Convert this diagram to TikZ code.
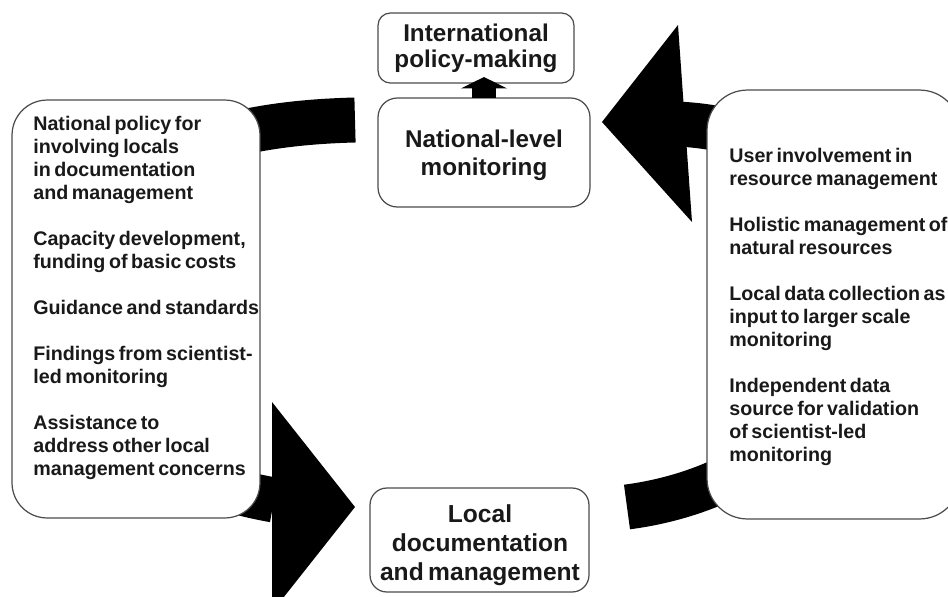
\documentclass[tikz,border=0pt]{standalone}
\usepackage{fontspec}
\setmainfont{Liberation Sans}[WordSpace=0.65]
\usetikzlibrary{arrows.meta}

\tikzset{
	panel/.style={draw=black!70, line width=0.7pt, fill=white, inner sep=0pt, outer sep=0pt},
	title/.style={font=\bfseries\fontsize{13.8}{14.6}\selectfont, align=center, text=black!90},
	notes/.style={font=\bfseries\fontsize{11.2}{13.1}\selectfont, align=left, text=black!90, inner sep=0pt},
	band/.style={line width=25.6pt, draw=black},
}

\begin{document}
\begin{tikzpicture}[x=0.02cm, y=-0.02cm]
	\useasboundingbox (0, 0) rectangle (948, 596);
	% the two cycle arrows, drawn first so that the side boxes hide them
	\coordinate (ltail) at (355, 120);
	\coordinate (lend) at (274, 500);
	\coordinate (ltip) at (355, 507);
	\draw[band] (ltail) .. controls (150, 125) and (80, 200) .. (80, 310)
		.. controls (80, 420) and (160, 480) .. (lend);
	\fill (272, 402) -- (ltip) -- (272, 612) -- cycle;
	\coordinate (rtail) at (627, 507);
	\coordinate (rend) at (676, 124);
	\coordinate (rtip) at (602, 122);
	\draw[band] (rtail) .. controls (720, 495) and (840, 440) .. (840, 310)
		.. controls (840, 180) and (780, 128) .. (rend);
	\fill (678, 25) -- (rtip) -- (692, 222) -- cycle;
	% boxes
	\node[panel, title, rounded corners=7pt, minimum width=3.92cm, minimum height=1.4cm] (intpol) at (476, 48) {International\\policy-making};
	\node[panel, rounded corners=11pt, minimum width=4.24cm, minimum height=2.18cm] (natmon) at (484, 152.5) {};
	\node[title, font=\bfseries\fontsize{13.8}{16}\selectfont] (natmontext) at (484, 155) {National-level\\monitoring};
	\node[panel, rounded corners=9.6pt, minimum width=4.38cm, minimum height=2.08cm] (locdoc) at (479.5, 540) {};
	\node[title, font=\bfseries\fontsize{14}{16.5}\selectfont] (locdoctext) at (480, 545) {Local\\documentation\\and management};
	\node[panel, rounded corners=20pt, minimum width=4.96cm, minimum height=8.36cm] (natsup) at (136, 309) {};
	\node[notes, anchor=north west] (natsuptext) at (33, 115.5) {National policy for\\involving locals\\in documentation\\and management\\[13.1pt]
		Capacity development,\\funding of basic costs\\[13.1pt]
		Guidance and standards\\[13.1pt]
		Findings from scientist-\\led monitoring\\[13.1pt]
		Assistance to\\address other local\\management concerns};
	\node[panel, rounded corners=23pt, minimum width=5.06cm, minimum height=8.58cm] (locben) at (833.5, 304.5) {};
	\node[notes, anchor=north west] (locbentext) at (729, 147.5) {User involvement in\\resource management\\[13.1pt]
		Holistic management of\\natural resources\\[13.1pt]
		Local data collection as\\input to larger scale\\monitoring\\[13.1pt]
		Independent data\\source for validation\\of scientist-led\\monitoring};
	% national results feed international policy
	\draw[line width=13.6pt, -{Triangle[width=26pt, length=6.5pt]}] (natmon.north) -- ([yshift=3.4pt]natmon.north |- intpol.south);
\end{tikzpicture}
\end{document}
